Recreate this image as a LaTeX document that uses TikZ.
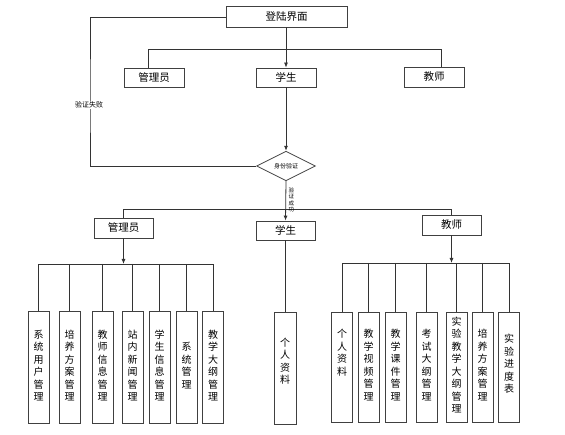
\documentclass[tikz,border=0pt]{standalone}
\usepackage{fontspec}
\newfontfamily\cjk{Noto Sans CJK SC}
\usetikzlibrary{shapes.geometric,arrows.meta}
\tikzset{
  every node/.style={font=\cjk},
  ln/.style={draw=black!80, line width=0.8pt},
  arr/.style={ln, -{Latex[length=5pt,width=4pt]}},
  hbox/.style={draw=black!75, line width=0.8pt, rectangle, inner sep=0pt, font=\cjk\fontsize{10.5}{12}\selectfont},
  vbox/.style={draw=black!75, line width=0.8pt, rectangle, inner sep=0pt, minimum width=21pt, minimum height=112pt},
  vtxt/.style={align=center, inner sep=0pt, font=\cjk\fontsize{10}{12.5}\selectfont},
  dia/.style={draw=black!75, line width=0.8pt, diamond, inner sep=0pt, minimum width=59pt, minimum height=25pt, font=\cjk\fontsize{6}{7}\selectfont},
  lab/.style={inner sep=1pt, fill=white, font=\cjk\fontsize{7}{8}\selectfont},
}
\begin{document}
\begin{tikzpicture}[x=1pt,y=-1pt]
\useasboundingbox (0,0) rectangle (565,435);
% level 0
\node[hbox, minimum width=121pt, minimum height=21pt] (login) at (286.5,16.5) {登陆界面};
\node[hbox, minimum width=60pt, minimum height=19pt] (adm1) at (154,77.5) {管理员};
\node[hbox, minimum width=60pt, minimum height=19pt] (stu1) at (286,77.5) {学生};
\node[hbox, minimum width=60pt, minimum height=20pt] (tea1) at (434,77) {教师};
\node[dia] (dv) at (286,166) {身份验证};
\coordinate (b1) at (0,49);
\coordinate (fx) at (90,100);
\draw[arr] (login.south -| stu1) -- (stu1.north);
\draw[arr] (stu1.south) -- (dv.north);
\draw[ln] ([xshift=-6pt]adm1.north) |- ([xshift=7pt]tea1.north |- b1) -- ([xshift=7pt]tea1.north);
\draw[ln] (login.west |- 0,17) -| (fx) |- (dv.west);
\node[lab] (fail) at (89,105) {验证失败};
% level 2
\node[hbox, minimum width=59pt, minimum height=20pt] (adm2) at (123.5,228) {管理员};
\node[hbox, minimum width=59pt, minimum height=19pt] (stu2) at (285.5,230.5) {学生};
\node[hbox, minimum width=59pt, minimum height=20pt] (tea2) at (451.5,225) {教师};
\coordinate (b2) at (0,209);
\draw[ln] (adm2.north) |- (tea2.north |- b2) -- (tea2.north);
\draw[arr] (dv.south) -- (stu2.north);
\node[anchor=west, align=center, inner sep=0pt, font=\cjk\fontsize{5.5}{6.5}\selectfont] (ok) at (288.5,200) {验\\证\\成\\功};
% admin children
\coordinate (ab) at (0,264);
\draw[arr] (adm2.south) -- (adm2.south |- ab);
\foreach \n/\x/\t in {a1/38.5/{系\\统\\用\\户\\管\\理},a2/69.5/{培\\养\\方\\案\\管\\理},a3/102.5/{教\\师\\信\\息\\管\\理},a4/132.5/{站\\内\\新\\闻\\管\\理},a5/159.5/{学\\生\\信\\息\\管\\理},a6/186.5/{系\\统\\管\\理},a7/213/{教\\学\\大\\纲\\管\\理}}{
  \node[vbox] (\n) at (\x,367) {};
  \node[vtxt] (\n t) at (\x,365.5) {\t};
}
\draw[ln] (a1.north) |- (a7.north |- ab) -- (a7.north);
\foreach \n in {a2,a3,a4,a5,a6}{\draw[ln] (\n.north |- ab) -- (\n.north);}
% student child
\node[vbox, minimum width=22pt] (s1) at (285,368.5) {};
\node[vtxt] (s1t) at (285,361) {个\\人\\资\\料};
\draw[ln] (stu2.south) -- (stu2.south |- s1.north);
% teacher children
\coordinate (tb) at (0,263);
\draw[arr] (tea2.south) -- (tea2.south |- tb);
\foreach \n/\x/\y/\t in {t1/342/352.5/{个\\人\\资\\料},t2/368.5/365/{教\\学\\视\\频\\管\\理},t3/395.5/365/{教\\学\\课\\件\\管\\理},t4/426.5/365/{考\\试\\大\\纲\\管\\理},t5/456.5/365/{实\\验\\教\\学\\大\\纲\\管\\理},t6/482.5/365/{培\\养\\方\\案\\管\\理},t7/509/364/{实\\验\\进\\度\\表}}{
  \node[vbox, minimum height=110pt] (\n) at (\x,367) {};
  \node[vtxt] (\n t) at (\x,\y) {\t};
}
\draw[ln] (t1.north) |- (t7.north |- tb) -- (t7.north);
\foreach \n in {t2,t3,t4,t5,t6}{\draw[ln] (\n.north |- tb) -- (\n.north);}
\end{tikzpicture}
\end{document}
